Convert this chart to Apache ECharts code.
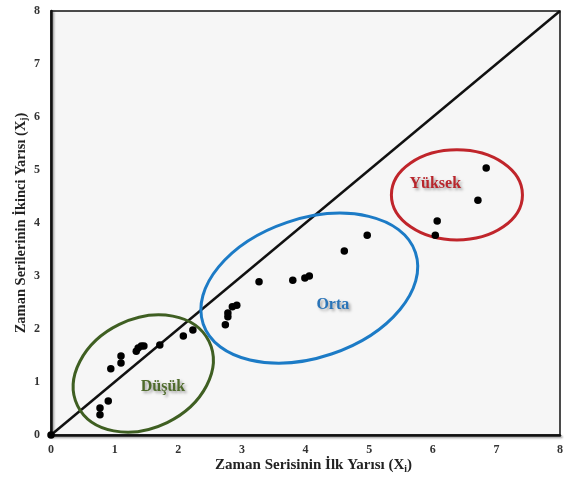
<!DOCTYPE html>
<html>
<head>
<meta charset="utf-8">
<script src="https://cdn.jsdelivr.net/npm/echarts@6/dist/echarts.min.js"></script>
<style>
  html, body { margin: 0; padding: 0; background: #ffffff; }
  #chart { width: 564px; height: 479px; }
</style>
</head>
<body>
<div id="chart"></div>
<script>
// Observations: first half (X_i) against second half (X_j) of each series
const xFirstHalf = [0, 0.77, 0.77, 0.90, 0.94, 1.10, 1.10, 1.34, 1.37, 1.42, 1.46, 1.71, 2.08, 2.23,
  2.74, 2.78, 2.78, 2.85, 2.92, 3.27, 3.80, 3.99, 4.06, 4.61, 4.97, 6.04, 6.07, 6.71, 6.84];
const ySecondHalf = [0, 0.51, 0.38, 0.64, 1.25, 1.49, 1.36, 1.58, 1.64, 1.68, 1.68, 1.70, 1.87, 1.98,
  2.08, 2.23, 2.30, 2.42, 2.45, 2.89, 2.92, 2.96, 3.00, 3.47, 3.77, 3.77, 4.04, 4.43, 5.04];

// 1:1 reference line
const diagonalX = [0, 8];
const diagonalY = [0, 8];

// Axis ticks
const tickValues = [0, 1, 2, 3, 4, 5, 6, 7, 8];

// Low / medium / high groups, outlined by ellipses in data units
const groupNames = ['Düşük', 'Orta', 'Yüksek'];
const groupCenterX = [1.45, 4.06, 6.38];
const groupCenterY = [1.16, 2.77, 4.53];
const groupRadiusX = [1.15, 1.76, 1.03];
const groupRadiusY = [1.03, 1.31, 0.85];
const groupTilt = [26, 18.6, 0];
const groupLabelX = [1.76, 4.43, 6.04];
const groupLabelY = [0.91, 2.45, 4.74];

const groupColors = ['#3f5f22', '#1c7bc6', '#c0252b'];
const groupTextColors = ['#4f6b2c', '#2a74b8', '#b8262c'];

const serif = '"Liberation Serif", "DejaVu Serif", serif';

const points = xFirstHalf.map((x, i) => [x, ySecondHalf[i]]);
const diagonal = diagonalX.map((x, i) => [x, diagonalY[i]]);
const groups = groupNames.map((n, i) => [
  groupCenterX[i], groupCenterY[i], groupRadiusX[i], groupRadiusY[i],
  groupTilt[i], groupLabelX[i], groupLabelY[i]
]);

const chart = echarts.init(document.getElementById('chart'), null, { renderer: 'canvas' });

const axisLabelStyle = {
  fontFamily: serif, fontWeight: 'bold', fontSize: 12, color: '#333'
};
const axisLineStyle = {
  color: '#111', width: 2.5,
  shadowColor: 'rgba(0,0,0,0.35)', shadowBlur: 2, shadowOffsetX: 1.5, shadowOffsetY: 1.5
};
function nameRich(size) {
  return {
    n: { fontFamily: serif, fontWeight: 'bold', fontSize: size, color: '#222' },
    s: { fontFamily: serif, fontWeight: 'bold', fontSize: size * 0.65, color: '#222', padding: [7, 0, 0, 0] }
  };
}

chart.setOption({
  animation: false,
  backgroundColor: '#ffffff',
  grid: {
    left: 51, right: 4, top: 11, bottom: 44,
    outerBoundsMode: 'none',
    containLabel: false,
    show: true, backgroundColor: '#f6f6f6', borderColor: '#111', borderWidth: 1.5
  },
  xAxis: {
    type: 'value', min: tickValues[0], max: tickValues[tickValues.length - 1], interval: 1,
    axisLine: { show: true, onZero: false, lineStyle: axisLineStyle },
    axisTick: { show: false },
    splitLine: { show: false },
    axisLabel: Object.assign({ margin: 9 }, axisLabelStyle),
    name: '{n|Zaman Serisinin İlk Yarısı (X}{s|i}{n|)}',
    nameLocation: 'middle', nameGap: 22, nameMoveOverlap: false,
    nameTextStyle: { rich: nameRich(15), padding: [0, 0, 0, 16] }
  },
  yAxis: {
    type: 'value', min: tickValues[0], max: tickValues[tickValues.length - 1], interval: 1,
    axisLine: { show: true, onZero: false, lineStyle: axisLineStyle },
    axisTick: { show: false },
    splitLine: { show: false },
    axisLabel: Object.assign({ margin: 11 }, axisLabelStyle),
    name: '{n|Zaman Serilerinin İkinci Yarısı (X}{s|j}{n|)}',
    nameLocation: 'middle', nameGap: 22, nameMoveOverlap: false,
    nameTextStyle: { rich: nameRich(14.5) }
  },
  series: [
    {
      type: 'line',
      data: diagonal,
      symbol: 'none',
      lineStyle: { color: '#111', width: 2.5 },
      z: 2
    },
    {
      type: 'custom',
      data: groups,
      z: 3,
      renderItem: function (params, api) {
        const i = params.dataIndex;
        const c = api.coord([api.value(0), api.value(1)]);
        const s = api.size([api.value(2), api.value(3)]);
        const t = api.coord([api.value(5), api.value(6)]);
        return {
          type: 'group',
          children: [
            {
              type: 'ellipse',
              x: c[0], y: c[1],
              rotation: api.value(4) * Math.PI / 180,
              shape: { cx: 0, cy: 0, rx: s[0], ry: s[1] },
              style: { fill: 'none', stroke: groupColors[i], lineWidth: 3 }
            },
            {
              type: 'text',
              x: t[0], y: t[1],
              style: {
                text: groupNames[i],
                fill: groupTextColors[i],
                font: 'bold 16px ' + serif,
                align: 'center', verticalAlign: 'middle',
                textShadowColor: 'rgba(0,0,0,0.35)', textShadowBlur: 3,
                textShadowOffsetX: 2, textShadowOffsetY: 2
              }
            }
          ]
        };
      }
    },
    {
      type: 'scatter',
      data: points,
      symbol: 'circle',
      symbolSize: 7.5,
      itemStyle: { color: '#000', opacity: 1 },
      z: 4
    }
  ]
});
</script>
</body>
</html>
